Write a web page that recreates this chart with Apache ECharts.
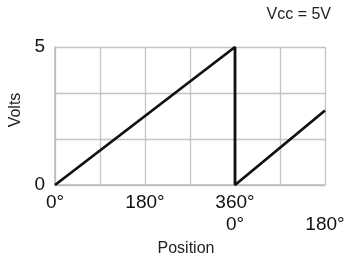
<!DOCTYPE html>
<html>
<head>
<meta charset="utf-8">
<script src="https://cdn.jsdelivr.net/npm/echarts@6/dist/echarts.min.js"></script>
<style>
  html, body { margin: 0; padding: 0; background: #fff; }
  #chart { width: 345px; height: 261px; }
</style>
</head>
<body>
<div id="chart"></div>
<script>
// 锯齿波数据
var positions = [0, 360, 360, 540];
var volts = [0, 5, 0, 2.7];
var xTickLabels = { 0: '0°', 180: '180°', 360: '360°\n0°', 540: '\n180°' };
var yTickLabels = [0, 5];

var chart = echarts.init(document.getElementById('chart'));
var font = 'Liberation Sans, Arial, sans-serif';

var points = [];
for (var i = 0; i < positions.length; i++) {
    points.push([positions[i], volts[i]]);
}

var option = {
    animation: false,
    grid: { left: 55, right: 20, top: 47, bottom: 76, outerBoundsMode: 'none' },
    graphic: [{
        type: 'text',
        right: 14,
        top: 7,
        style: { text: 'Vcc = 5V', font: '16px ' + font, fill: '#222' }
    }],
    xAxis: {
        type: 'value',
        min: 0,
        max: 540,
        interval: 90,
        name: 'Position',
        nameLocation: 'middle',
        nameGap: 55,
        nameTextStyle: { fontFamily: font, fontSize: 16, color: '#222', padding: [0, 8, 0, 0] },
        axisLine: { lineStyle: { color: '#bbb', width: 1.5 } },
        axisTick: { show: false },
        splitLine: { lineStyle: { color: '#c4c4c4', width: 1.3 } },
        axisLabel: {
            fontFamily: font,
            fontSize: 19,
            color: '#111',
            lineHeight: 22,
            margin: 7,
            formatter: function (v) {
                return xTickLabels[v] !== undefined ? xTickLabels[v] : '';
            }
        }
    },
    yAxis: {
        type: 'value',
        min: 0,
        max: 5,
        interval: 5 / 3,
        name: 'Volts',
        nameLocation: 'middle',
        nameGap: 29,
        nameTextStyle: { fontFamily: font, fontSize: 16, color: '#222', padding: [0, 0, 0, 12] },
        axisLine: { show: true, lineStyle: { color: '#bbb', width: 1.5 } },
        axisTick: { show: false },
        splitLine: { lineStyle: { color: '#c4c4c4', width: 1.3 } },
        axisLabel: {
            fontFamily: font,
            fontSize: 19,
            color: '#111',
            margin: 10,
            formatter: function (v) {
                for (var k = 0; k < yTickLabels.length; k++) {
                    if (Math.abs(v - yTickLabels[k]) < 1e-6) return String(yTickLabels[k]);
                }
                return '';
            }
        }
    },
    series: [{
        type: 'line',
        data: points,
        symbol: 'none',
        lineStyle: { color: '#111', width: 2.8 }
    }]
};
chart.setOption(option);
</script>
</body>
</html>
